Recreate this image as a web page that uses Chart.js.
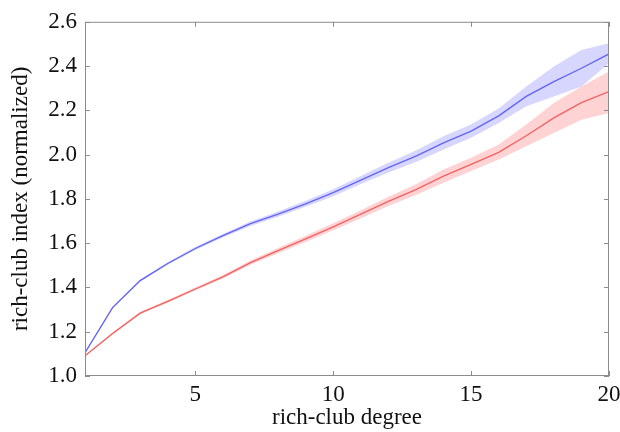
<!DOCTYPE html>
<html lang="en">
<head>
  <meta charset="UTF-8" />
  <title>Rich-club index vs degree</title>
  <script src="https://cdn.jsdelivr.net/npm/chart.js"></script>
  <style>
    body {
      margin: 0;
      background: #fff;
    }
  </style>
</head>
<body>
  <canvas id="richChart" width="620" height="432"></canvas>

  <script>
    const degrees = [1, 2, 3, 4, 5, 6, 7, 8, 9, 10, 11, 12, 13, 14, 15, 16, 17, 18, 19, 20];

    const blueMean  = [1.105, 1.309, 1.431, 1.508, 1.576, 1.634, 1.688, 1.731, 1.778, 1.828, 1.885, 1.941, 1.993, 2.053, 2.106, 2.175, 2.263, 2.330, 2.390, 2.455];
    const blueUpper = [1.108, 1.313, 1.436, 1.514, 1.583, 1.642, 1.698, 1.743, 1.792, 1.844, 1.903, 1.963, 2.019, 2.083, 2.136, 2.208, 2.308, 2.398, 2.473, 2.503];
    const blueLower = [1.102, 1.305, 1.426, 1.502, 1.569, 1.626, 1.678, 1.719, 1.764, 1.812, 1.867, 1.919, 1.967, 2.023, 2.076, 2.143, 2.218, 2.263, 2.308, 2.413];

    const redMean  = [1.091, 1.192, 1.284, 1.337, 1.393, 1.448, 1.512, 1.566, 1.619, 1.674, 1.731, 1.789, 1.842, 1.903, 1.956, 2.010, 2.085, 2.166, 2.235, 2.285];
    const redUpper = [1.094, 1.196, 1.289, 1.343, 1.400, 1.456, 1.522, 1.578, 1.633, 1.690, 1.749, 1.810, 1.866, 1.933, 1.986, 2.046, 2.136, 2.233, 2.308, 2.375];
    const redLower = [1.088, 1.188, 1.279, 1.331, 1.386, 1.440, 1.502, 1.554, 1.605, 1.658, 1.713, 1.768, 1.818, 1.873, 1.926, 1.978, 2.038, 2.098, 2.158, 2.188];

    const xTicks = [5, 10, 15, 20];
    const yTicks = [1.0, 1.2, 1.4, 1.6, 1.8, 2.0, 2.2, 2.4, 2.6];

    const serif = "'Liberation Serif', 'DejaVu Serif', serif";

    function pts(arr) {
      return degrees.map((d, i) => ({ x: d, y: arr[i] }));
    }

    function band(arr, fill, color) {
      return {
        data: pts(arr),
        borderWidth: 0,
        pointRadius: 0,
        fill: fill,
        backgroundColor: color,
        tension: 0
      };
    }

    function line(arr, color) {
      return {
        data: pts(arr),
        borderColor: color,
        borderWidth: 1.3,
        pointRadius: 0,
        fill: false,
        tension: 0
      };
    }

    // frame box + small inward tick marks on all four sides
    const framePlugin = {
      id: 'frame',
      afterDraw(chart) {
        const { ctx, chartArea: { left, right, top, bottom }, scales: { x, y } } = chart;
        ctx.save();
        ctx.strokeStyle = '#8c8c8c';
        ctx.lineWidth = 1;
        ctx.strokeRect(left + 0.5, top + 0.5, right - left - 1, bottom - top - 1);
        ctx.beginPath();
        xTicks.forEach(v => {
          const px = Math.round(x.getPixelForValue(v)) + 0.5;
          ctx.moveTo(px, bottom); ctx.lineTo(px, bottom - 5);
          ctx.moveTo(px, top); ctx.lineTo(px, top + 5);
        });
        yTicks.forEach(v => {
          const py = Math.round(y.getPixelForValue(v)) + 0.5;
          ctx.moveTo(left, py); ctx.lineTo(left + 5, py);
          ctx.moveTo(right, py); ctx.lineTo(right - 5, py);
        });
        ctx.stroke();
        ctx.restore();
      }
    };

    const ctx = document.getElementById('richChart').getContext('2d');

    const chart = new Chart(ctx, {
      type: 'line',
      data: {
        datasets: [
          band(blueLower, false, 'rgba(0,0,0,0)'),
          band(blueUpper, '-1', 'rgba(120,120,255,0.3)'),
          band(redLower, false, 'rgba(0,0,0,0)'),
          band(redUpper, '-1', 'rgba(255,110,110,0.3)'),
          line(blueMean, '#5b5bf2'),
          line(redMean, '#f05a5a')
        ]
      },
      options: {
        responsive: false,
        animation: false,
        layout: {
          padding: { top: 20, right: 0, left: 0, bottom: 0 }
        },
        plugins: {
          legend: { display: false },
          tooltip: { enabled: false }
        },
        scales: {
          x: {
            type: 'linear',
            min: 1,
            max: 20,
            afterBuildTicks: axis => { axis.ticks = xTicks.map(v => ({ value: v })); },
            afterFit: axis => { axis.height = 56; axis.paddingRight = 11; },
            grid: { display: false, drawTicks: false },
            border: { display: false },
            ticks: {
              padding: 5,
              maxRotation: 0,
              color: '#111',
              font: { family: serif, size: 23 }
            },
            title: {
              display: true,
              text: 'rich-club degree',
              color: '#111',
              font: { family: serif, size: 23 },
              padding: { top: 0, bottom: 0 }
            }
          },
          y: {
            min: 1.0,
            max: 2.6,
            afterBuildTicks: axis => { axis.ticks = yTicks.map(v => ({ value: v })); },
            afterFit: axis => { axis.width = 85; },
            grid: { display: false, drawTicks: false },
            border: { display: false },
            ticks: {
              padding: 8,
              color: '#111',
              font: { family: serif, size: 23 },
              callback: v => v.toFixed(1)
            },
            title: {
              display: true,
              text: 'rich-club index (normalized)',
              color: '#111',
              font: { family: serif, size: 23 },
              padding: { top: 7, bottom: 0 }
            }
          }
        }
      },
      plugins: [framePlugin]
    });
  </script>
</body>
</html>
